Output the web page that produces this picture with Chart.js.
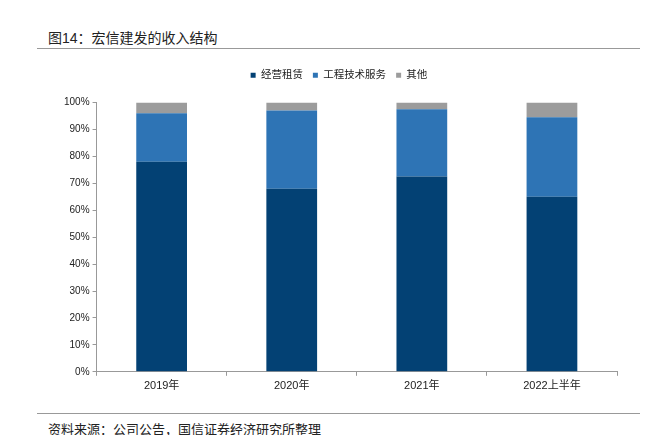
<!DOCTYPE html>
<html>
<head>
<meta charset="utf-8">
<script src="https://cdn.jsdelivr.net/npm/chart.js@4"></script>
<style>
  body { margin: 0; background: #fff; font-family: "Liberation Sans", "Noto Sans CJK SC", sans-serif; }
  #wrap { position: relative; width: 650px; height: 435px; }
  .title { position: absolute; left: 48px; top: 27px; font-size: 14px; color: #222; }
  .rule { position: absolute; left: 37px; width: 603px; height: 1px; background: #999; }
  .source { position: absolute; left: 48px; top: 419px; font-size: 13px; color: #222; }
  #chartBox { position: absolute; left: 0; top: 55px; width: 650px; height: 342px; }
</style>
</head>
<body>
<div id="wrap">
  <div class="title">图14：宏信建发的收入结构</div>
  <div class="rule" style="top:48px"></div>
  <div id="chartBox"><canvas id="myChart"></canvas></div>
  <div class="rule" style="top:413px"></div>
  <div class="source">资料来源：公司公告，国信证券经济研究所整理</div>
</div>
<script>
// categories and shares (%)
const years = ["2019年", "2020年", "2021年", "2022上半年"];
const leasing = [78, 68, 72.5, 65];
const engineering = [18, 29, 25, 29.5];
const others = [4, 3, 2.5, 5.5];

const fontFamily = '"Liberation Sans", "Noto Sans CJK SC", sans-serif';

// push the plot area down a bit below the legend
const legendGap = {
  id: "legendGap",
  beforeInit(chart) {
    const origFit = chart.legend.fit;
    chart.legend.fit = function () {
      origFit.bind(chart.legend)();
      this.height += 12;
    };
  }
};

const ctx = document.getElementById("myChart").getContext("2d");
const myChart = new Chart(ctx, {
  type: "bar",
  data: {
    labels: years,
    datasets: [
      { label: "经营租赁", data: leasing, backgroundColor: "#034174" },
      { label: "工程技术服务", data: engineering, backgroundColor: "#2E74B5" },
      { label: "其他", data: others, backgroundColor: "#9C9C9C" }
    ]
  },
  options: {
    responsive: true,
    maintainAspectRatio: false,
    animation: false,
    datasets: { bar: { categoryPercentage: 1, barPercentage: 0.39 } },
    layout: { padding: { left: 61, right: 33, top: 5, bottom: 0 } },
    plugins: {
      legend: {
        position: "top",
        labels: {
          boxWidth: 5, boxHeight: 5, padding: 10,
          color: "#222",
          font: { size: 10.5, family: fontFamily }
        }
      },
      tooltip: { enabled: false }
    },
    scales: {
      x: {
        stacked: true,
        grid: { drawOnChartArea: false, drawTicks: true, tickLength: 4, color: "#999" },
        border: { color: "#999" },
        ticks: { color: "#222", font: { size: 11, family: fontFamily }, padding: 4 }
      },
      y: {
        stacked: true,
        min: 0, max: 100,
        grid: { drawOnChartArea: false, drawTicks: true, tickLength: 4, color: "#999" },
        border: { color: "#999" },
        ticks: {
          stepSize: 10,
          color: "#222",
          font: { size: 10, family: fontFamily },
          padding: 3,
          callback: v => v + "%"
        }
      }
    }
  },
  plugins: [legendGap]
});
</script>
</body>
</html>
